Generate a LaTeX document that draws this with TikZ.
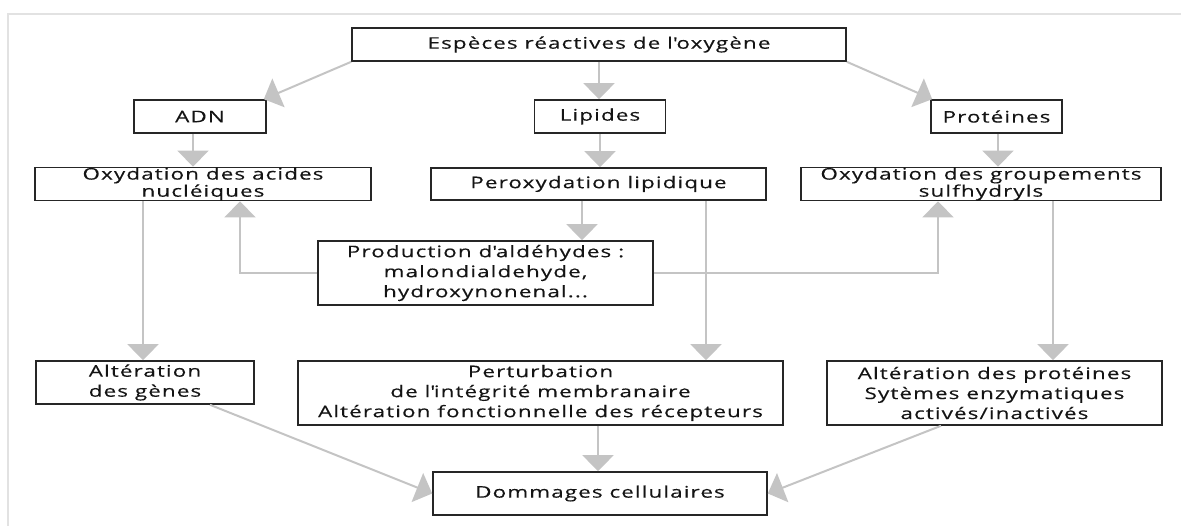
\documentclass[tikz,border=0pt]{standalone}
\usepackage{fontspec}
\setmainfont{Open Sans}[FakeStretch=1.4,LetterSpace=7,FakeBold=0.3]
\usetikzlibrary{arrows.meta}
\definecolor{arrgray}{HTML}{C4C4C4}
\definecolor{boxline}{HTML}{262626}
\definecolor{txt}{HTML}{141414}
\definecolor{framegray}{HTML}{E2E2E2}
\begin{document}
\begin{tikzpicture}[x=1pt,y=-1pt,
  box/.style={draw=boxline, line width=1.6pt, text=txt, align=center, inner sep=0pt, font=\fontsize{16}{20}\selectfont},
  tight/.style={font=\fontsize{16}{14.5}\selectfont},
  arr/.style={draw=arrgray, line width=2pt, -{Triangle[width=31pt,length=16pt]}},
]
\useasboundingbox (0,0) rectangle (1181,526);
\draw[framegray, line width=1.5pt] (8,526) -- (8,14) -- (1181,14);

\node[box, minimum width=494pt, minimum height=33pt] (top) at (599,44.5) {Espèces réactives de l\textquotesingle oxygène};
\node[box, minimum width=132pt, minimum height=33pt] (adn) at (200,116.5) {ADN};
\node[box, minimum width=131pt, minimum height=33pt] (lip) at (600,116.5) {Lipides};
\node[box, minimum width=131pt, minimum height=33pt] (prot) at (996.5,116.5) {Protéines};
\node[box, tight, minimum width=336pt, minimum height=32pt] (oxa) at (203,184) {Oxydation des acides\\nucléiques};
\node[box, minimum width=335pt, minimum height=32pt] (perox) at (598.5,184) {Peroxydation lipidique};
\node[box, tight, minimum width=360pt, minimum height=32pt] (oxg) at (981,184) {Oxydation des groupements\\sulfhydryls};
\node[box, minimum width=335pt, minimum height=64pt] (prod) at (485.5,273) {Production d\textquotesingle aldéhydes :\\malondialdehyde,\\hydroxynonenal...};
\node[box, minimum width=218pt, minimum height=43pt] (altg) at (145,382.5) {Altération\\des gènes};
\node[box, minimum width=485pt, minimum height=64pt] (pert) at (540.5,393) {Perturbation\\de l\textquotesingle intégrité membranaire\\Altération fonctionnelle des récepteurs};
\node[box, minimum width=335pt, minimum height=64pt] (altp) at (994.5,393) {Altération des protéines\\Sytèmes enzymatiques\\activés/inactivés};
\node[box, minimum width=334pt, minimum height=43pt] (dom) at (600,493.5) {Dommages cellulaires};

\draw[arr] (top.south west) -- ([xshift=-3pt]adn.north east);
\draw[arr] (top.south) -- (top.south |- lip.north);
\draw[arr] (top.south east) -- ([xshift=2pt]prot.north west);
\draw[arr] ([xshift=-7pt]adn.south) -- ([xshift=-7pt]adn.south |- oxa.north);
\draw[arr] (lip.south) -- (lip.south |- perox.north);
\draw[arr] ([xshift=1.5pt]prot.south) -- ([xshift=1.5pt]prot.south |- oxg.north);
\draw[arr] ([xshift=-16.5pt]perox.south) -- ([xshift=-16.5pt]perox.south |- prod.north);
\draw[arr] (prod.west) -| ([xshift=37pt]oxa.south);
\draw[arr] (prod.east) -| ([xshift=-43pt]oxg.south);
\draw[arr] ([xshift=-60pt]oxa.south) -- ([xshift=-60pt]oxa.south |- altg.north);
\draw[arr] ([xshift=107.5pt]perox.south) -- ([xshift=107.5pt]perox.south |- pert.north);
\draw[arr] ([xshift=72pt]oxg.south) -- ([xshift=72pt]oxg.south |- altp.north);
\draw[arr] ([xshift=65pt]altg.south) -- (dom.west);
\draw[arr] ([xshift=-2pt]dom.north |- pert.south) -- ([xshift=-2pt]dom.north);
\draw[arr] ([xshift=-53.5pt]altp.south) -- (dom.east);
\end{tikzpicture}
\end{document}
